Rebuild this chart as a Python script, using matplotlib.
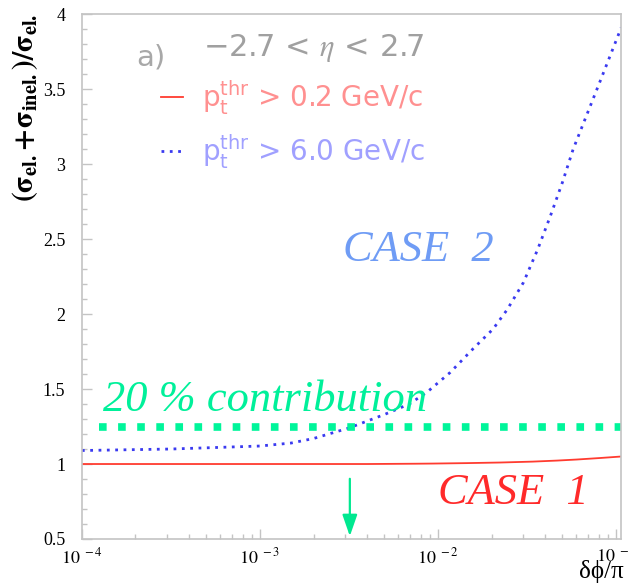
import matplotlib
matplotlib.use("Agg")
import matplotlib.pyplot as plt
from matplotlib.ticker import MultipleLocator, LogLocator, FixedLocator
import numpy as np

# curve values
dphi_low = [1e-4, 3e-4, 1e-3, 2e-3, 3e-3, 4e-3, 5.5e-3, 7.5e-3, 9.3e-3, 0.0145,
            0.0224, 0.034, 0.0447, 0.0468, 0.0603, 0.0813, 0.107]
ratio_low = [1.0, 1.0, 1.0, 1.0, 1.0, 1.0, 1.001, 1.002, 1.003, 1.006,
             1.01, 1.016, 1.022, 1.023, 1.03, 1.04, 1.05]

dphi_high = [1e-4, 3.16e-4, 1e-3, 1.5e-3, 2.0e-3, 3.16e-3, 5.0e-3, 6.9e-3, 8.7e-3,
             0.0117, 0.0158, 0.0204, 0.0245, 0.0302, 0.0363, 0.0427, 0.0501,
             0.0575, 0.0813, 0.107]
ratio_high = [1.09, 1.10, 1.12, 1.14, 1.17, 1.24, 1.33, 1.40, 1.48,
              1.61, 1.77, 1.90, 2.03, 2.21, 2.43, 2.65, 2.88,
              3.10, 3.55, 3.91]

threshold_x = [1.25e-4, 0.107]
threshold_y = [1.25, 1.25]

arrow_x = 3.2e-3
arrow_top = 0.92
arrow_bottom = 0.5

plt.rcParams["mathtext.fontset"] = "stix"

fig = plt.figure(figsize=(6.3, 5.87), dpi=100)
ax = fig.add_axes([0.130, 0.0818, 0.856, 0.894])

l1, = ax.plot(dphi_low, ratio_low, color="#ff3b2f", lw=1.3,
              label=r"$\mathregular{p_t^{thr}}$ > 0.2 GeV/c")
l2, = ax.plot(dphi_high, ratio_high, color="#3a3af0", lw=2.0, ls=(0, (1, 2)),
              label=r"$\mathregular{p_t^{thr}}$ > 6.0 GeV/c")
ax.plot(threshold_x, threshold_y, color="#00f59a", lw=5.5, ls=(0, (1, 1.5)))

ax.annotate("", xy=(arrow_x, arrow_bottom), xytext=(arrow_x, arrow_top),
            arrowprops=dict(arrowstyle="-|>,head_width=0.45,head_length=1.3",
                            color="#00e890", lw=1.6))

ax.set_xscale("log")
ax.set_xlim(1e-4, 0.107)
ax.set_ylim(0.5, 4.0)

ax.yaxis.set_major_locator(MultipleLocator(0.5))
ax.yaxis.set_minor_locator(MultipleLocator(0.1))
ax.xaxis.set_major_locator(FixedLocator([1e-4, 1e-3, 1e-2, 1e-1]))
ax.xaxis.set_minor_locator(LogLocator(base=10, subs=np.arange(2, 10)))
ax.set_xticklabels([r"$10^{\ -4}$", r"$10^{\ -3}$", r"$10^{\ -2}$", r"$10^{\ -1}$"])
ax.set_yticks([0.5, 1, 1.5, 2, 2.5, 3, 3.5, 4])
ax.set_yticklabels(["0.5", "1", "1.5", "2", "2.5", "3", "3.5", "4"])

for s in ax.spines.values():
    s.set_color("#c4c4c4")
    s.set_linewidth(1.2)
ax.tick_params(which="both", direction="in", color="#c4c4c4", labelsize=13,
               labelfontfamily="Liberation Serif", top=False, right=False)
ax.tick_params(which="major", length=7, width=1)
ax.tick_params(which="minor", length=3.6, width=1)
ax.tick_params(axis="x", pad=6)
ax.tick_params(axis="y", pad=12)

ax.set_ylabel(r"$\mathbf{(\sigma_{el.}\!+\!\sigma_{inel.})/\sigma_{el.}}$",
              fontsize=21, loc="top", labelpad=2)
ax.text(1.005, -0.084, "δϕ/π", transform=ax.transAxes, ha="right", va="bottom",
        fontsize=18, family=["Liberation Serif", "DejaVu Serif"])

ax.text(0.10, 0.918, "a)", transform=ax.transAxes, color="#a8a8a8",
        fontsize=21, family="DejaVu Sans", va="center")
ax.text(0.224, 0.935, r"−2.7 < $\eta$ < 2.7", transform=ax.transAxes,
        color="#a0a0a0", fontsize=22, family="DejaVu Sans", va="center")

leg = ax.legend(handles=[l1, l2], loc="upper left", bbox_to_anchor=(0.1, 0.925),
                frameon=False, handlelength=0.8, handletextpad=0.7,
                labelspacing=0.55, labelcolor=["#ff9090", "#a0a0ff"],
                prop={"family": "DejaVu Sans", "size": 20})

script = {"family": "Liberation Serif", "style": "italic"}
ax.text(0.485, 0.55, "CASE  2", transform=ax.transAxes, color="#6f9cf5",
        fontsize=32, va="center", ha="left", **script)
ax.text(0.66, 0.088, "CASE  1", transform=ax.transAxes, color="#ff2a2a",
        fontsize=32, va="center", ha="left", **script)
ax.text(0.039, 0.265, "20 % contribution", transform=ax.transAxes, color="#00f09a",
        fontsize=32, va="center", ha="left", **script)

fig.savefig("out.png", dpi=100)
